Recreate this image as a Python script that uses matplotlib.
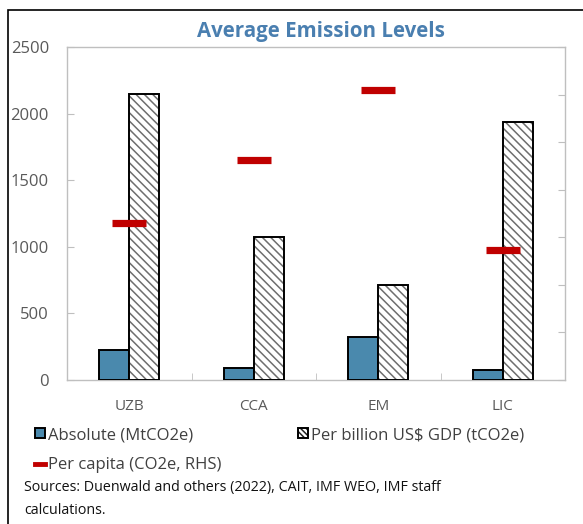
import matplotlib
matplotlib.use("Agg")
import matplotlib.pyplot as plt
import numpy as np
from matplotlib.patches import Patch, Rectangle
from matplotlib.lines import Line2D
from matplotlib.legend_handler import HandlerPatch

plt.rcParams['font.family'] = ['Open Sans', 'DejaVu Sans']
plt.rcParams['hatch.linewidth'] = 1.1

categories = ["UZB", "CCA", "EM", "LIC"]
absolute = [225, 90, 323, 75]              # MtCO2e
per_gdp = [2150, 1075, 713, 1937]          # tCO2e per billion US$ GDP
per_capita = [6.6, 9.25, 12.2, 5.47]       # CO2e per capita (RHS)
left_ticks = [0, 500, 1000, 1500, 2000, 2500]
right_ticks = [0, 2, 4, 6, 8, 10, 12, 14]

BLUE = "#4a89ad"
RED = "#c00000"
GRAY = "#595959"
SPINE = "#bfbfbf"
HATCH = "#6e6e6e"
HATCH_PATTERN = "\\\\\\\\"

fig = plt.figure(figsize=(5.83, 5.24), dpi=100)
ax = fig.add_axes([67/583, 1-380/524, (565-67)/583, (380-47)/524])

x = np.arange(len(categories))
w = 0.24
ax.bar(x - w/2, absolute, w, color=BLUE, edgecolor="black", linewidth=1.4, zorder=3)
# hatched fill in gray, then a black outline on top
ax.bar(x + w/2, per_gdp, w, color="white", edgecolor=HATCH, linewidth=0,
       hatch=HATCH_PATTERN, zorder=3)
ax.bar(x + w/2, per_gdp, w, fill=False, edgecolor="black", linewidth=1.4, zorder=3.5)

ax.set_xlim(-0.5, len(categories) - 0.5)
ax.set_ylim(left_ticks[0], left_ticks[-1])
ax.set_yticks(left_ticks)
ax.set_yticklabels([str(t) for t in left_ticks])
ax.set_xticks(x)
ax.set_xticklabels(categories)
ax.set_xticks(np.arange(len(categories) - 1) + 0.5, minor=True)
ax.tick_params(axis="x", which="major", length=0, pad=14, labelsize=11, labelcolor=GRAY)
ax.tick_params(axis="x", which="minor", length=5, direction="in", color=SPINE)
ax.tick_params(axis="y", length=5, direction="in", color=SPINE, pad=13,
               labelsize=12, labelcolor=GRAY)
for s in ax.spines.values():
    s.set_color(SPINE)
    s.set_linewidth(1.0)

ax2 = ax.twinx()
ax2.set_ylim(right_ticks[0], right_ticks[-1])
ax2.set_yticks(right_ticks)
ax2.tick_params(axis="y", length=5, direction="in", color=SPINE, labelright=False)
ax2.hlines(per_capita, x - 0.135, x - 0.135 + 0.27, color=RED, linewidth=5.2, zorder=4)
for s in ax2.spines.values():
    s.set_visible(False)

fig.text(321/583, 1-32/524, "Average Emission Levels", ha="center", va="center",
         fontsize=14.8, fontweight="bold", color="#4a7fb0")


class HatchedSquare(HandlerPatch):
    def create_artists(self, legend, orig_handle, xdescent, ydescent, width,
                       height, fontsize, trans):
        fill = Rectangle((-xdescent, -ydescent), width, height, facecolor="white",
                         edgecolor="#222222", linewidth=0, hatch="\\\\\\\\\\\\",
                         transform=trans)
        edge = Rectangle((-xdescent, -ydescent), width, height, fill=False,
                         edgecolor="black", linewidth=1.4, transform=trans)
        return [fill, edge]


hatched_handle = Patch(facecolor="white", edgecolor="black")
handles = [
    Patch(facecolor=BLUE, edgecolor="black", linewidth=1.4),
    Line2D([], [], color=RED, linewidth=3.5),
    hatched_handle,
]
labels = ["Absolute (MtCO2e)", "Per capita (CO2e, RHS)", "Per billion US$ GDP (tCO2e)"]
fig.legend(handles, labels, ncol=2, loc="upper left",
           bbox_to_anchor=(35/583, 1-427/524), frameon=False, fontsize=12,
           handlelength=0.6, handleheight=0.6, handletextpad=0.2,
           columnspacing=4.55, labelspacing=0.85, labelcolor="#404040",
           borderaxespad=0, borderpad=0,
           handler_map={hatched_handle: HatchedSquare()})

fig.text(24/583, 1-488/524, "Sources: Duenwald and others (2022), CAIT, IMF WEO, IMF staff",
         ha="left", va="center", fontsize=10.3, color="#111111")
fig.text(24/583, 1-510/524, "calculations.", ha="left", va="center",
         fontsize=10.3, color="#111111")

fig.patches.append(Rectangle((8/583, -0.1), 1.2, 1 - 10/524 + 0.1,
                             transform=fig.transFigure, fill=False,
                             edgecolor="black", linewidth=1.2))

fig.savefig("out.png", dpi=100)
